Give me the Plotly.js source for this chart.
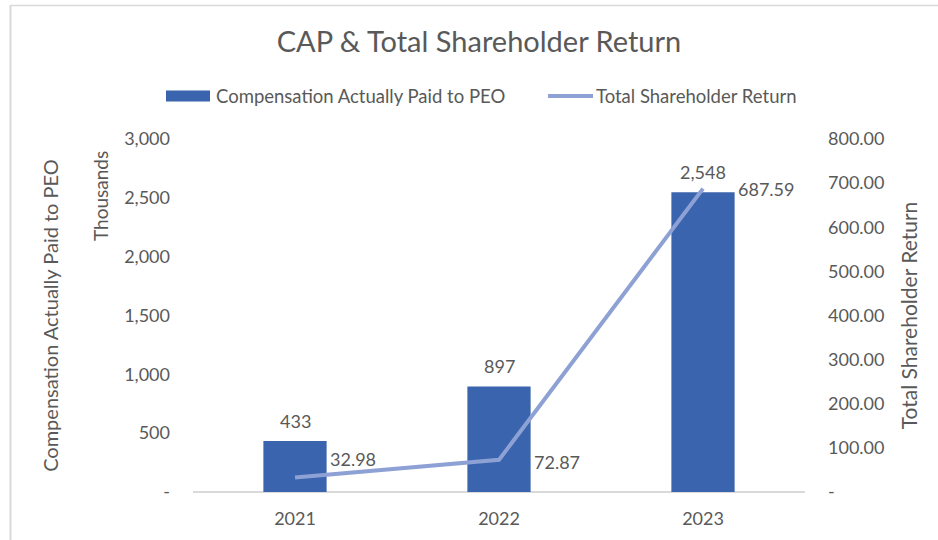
<!DOCTYPE html>
<html>
<head>
<meta charset="utf-8">
<script src="https://cdn.plot.ly/plotly-3.0.1.min.js"></script>
<style>
  html, body { margin: 0; padding: 0; background: #fff; }
  #chart { width: 938px; height: 540px; }
</style>
</head>
<body>
<div id="chart"></div>
<script>
// Data
const years = ["2021", "2022", "2023"];
const capValues = [433, 897, 2548];           // thousands
const tsrValues = [32.98, 72.87, 687.59];
const capLabels = ["433", "897", "2,548"];
const tsrLabels = ["32.98", "72.87", "687.59"];
const leftTickVals = [0, 500, 1000, 1500, 2000, 2500, 3000];
const leftTickText = ["-", "500", "1,000", "1,500", "2,000", "2,500", "3,000"];
const rightTickVals = [0, 100, 200, 300, 400, 500, 600, 700, 800];
const rightTickText = ["-", "100.00", "200.00", "300.00", "400.00", "500.00", "600.00", "700.00", "800.00"];
const seriesNames = ["Compensation Actually Paid to PEO", "Total Shareholder Return"];
const tsrLabelYShift = [18, -2, 0];

const FONT = "Lato, Carlito, Calibri, 'Open Sans', sans-serif";
const GREY = "#595959";
const BAR = "#3A64AD";
const LINE = "#8EA1D5";

const traces = [
  {
    type: "bar",
    name: seriesNames[0],
    x: years,
    y: capValues,
    marker: { color: BAR },
    yaxis: "y",
    showlegend: false
  },
  {
    type: "scatter",
    mode: "lines",
    name: seriesNames[1],
    x: years,
    y: tsrValues,
    line: { color: LINE, width: 4 },
    yaxis: "y2",
    showlegend: false
  }
];

const plotL = 193, plotR = 805, plotT = 139, plotB = 492;
const pw = plotR - plotL, ph = plotB - plotT;
const px = v => (v - plotL) / pw;
const py = v => (plotB - v) / ph;

const annotations = [];
years.forEach((yr, i) => {
  annotations.push({
    x: i, y: capValues[i], xref: "x", yref: "y",
    text: capLabels[i], showarrow: false,
    xanchor: "center", yanchor: "bottom", yshift: 7,
    font: { family: FONT, size: 18, color: GREY }
  });
  annotations.push({
    x: i, y: tsrValues[i], xref: "x", yref: "y2",
    text: tsrLabels[i], showarrow: false,
    xanchor: "left", yanchor: "middle", xshift: 33, yshift: tsrLabelYShift[i],
    font: { family: FONT, size: 18, color: GREY }
  });
});
annotations.push({
  x: 0, xref: "paper", y: py(196), yref: "paper",
  xanchor: "center", yanchor: "middle", xshift: -93,
  text: "Thousands", textangle: -90, showarrow: false,
  font: { family: FONT, size: 19, color: GREY }
});
// legend texts
annotations.push({
  x: px(214), xref: "paper", y: py(96), yref: "paper",
  xanchor: "left", yanchor: "middle", showarrow: false,
  text: seriesNames[0], font: { family: FONT, size: 18.5, color: GREY }
});
annotations.push({
  x: px(594), xref: "paper", y: py(96), yref: "paper",
  xanchor: "left", yanchor: "middle", showarrow: false,
  text: seriesNames[1], font: { family: FONT, size: 18.5, color: GREY }
});

const layout = {
  width: 938, height: 540,
  margin: { l: plotL, r: 938 - plotR, t: plotT, b: 540 - plotB },
  paper_bgcolor: "#fff", plot_bgcolor: "#fff",
  font: { family: FONT, color: GREY, size: 18 },
  title: {
    text: "CAP & Total Shareholder Return",
    x: 479 / 938, xref: "container", xanchor: "center",
    y: 1 - 42 / 540, yref: "container", yanchor: "middle",
    font: { family: FONT, size: 29, color: GREY }
  },
  showlegend: false,
  bargap: 0.69,
  xaxis: {
    type: "category",
    range: [-0.5, 2.5],
    showgrid: false, zeroline: false, showline: false,
    ticks: "", tickfont: { family: FONT, size: 18, color: GREY },
    ticklabelstandoff: 14
  },
  yaxis: {
    range: [0, 3000],
    tickvals: leftTickVals, ticktext: leftTickText,
    showgrid: false, zeroline: true, zerolinecolor: "#D9D9D9", zerolinewidth: 1.5,
    showline: false, ticks: "",
    tickfont: { family: FONT, size: 18, color: GREY },
    ticklabelstandoff: 22,
    title: { text: seriesNames[0], font: { family: FONT, size: 20, color: GREY }, standoff: 60 }
  },
  yaxis2: {
    range: [0, 800], overlaying: "y", side: "right",
    tickvals: rightTickVals, ticktext: rightTickText,
    showgrid: false, zeroline: false, showline: false, ticks: "",
    tickfont: { family: FONT, size: 18, color: GREY },
    ticklabelstandoff: 22,
    title: { text: seriesNames[1], font: { family: FONT, size: 21, color: GREY }, standoff: 18 }
  },
  annotations: annotations,
  shapes: [
    { type: "line", xref: "paper", yref: "paper", x0: px(10.5), x1: px(10.5), y0: py(5), y1: py(540), line: { color: "#D9D9D9", width: 2 } },
    { type: "line", xref: "paper", yref: "paper", x0: px(10), x1: px(938), y0: py(5.5), y1: py(5.5), line: { color: "#D9D9D9", width: 1.5 } },
    // legend swatches
    { type: "rect", xref: "paper", yref: "paper", x0: px(166), x1: px(210), y0: py(90.5), y1: py(101.5), fillcolor: BAR, line: { width: 0 } },
    { type: "line", xref: "paper", yref: "paper", x0: px(548), x1: px(593), y0: py(96), y1: py(96), line: { color: LINE, width: 4 } }
  ]
};

Plotly.newPlot("chart", traces, layout, { displayModeBar: false, staticPlot: true });
</script>
</body>
</html>
